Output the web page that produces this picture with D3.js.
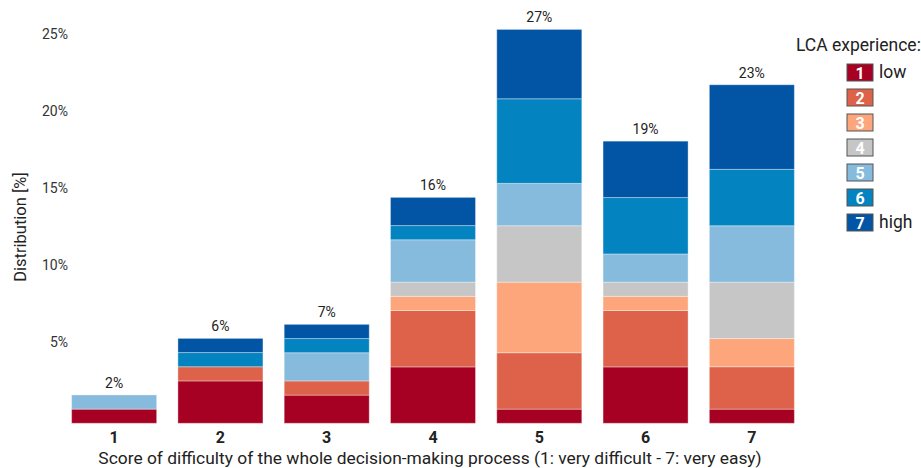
<!DOCTYPE html>
<html>
<head>
<meta charset="utf-8">
<script src="https://cdn.jsdelivr.net/npm/d3@7"></script>
<style>
  html, body { margin: 0; padding: 0; background: #fff; }
  svg { display: block; font-family: Roboto, "Noto Sans", sans-serif; }
</style>
</head>
<body>
<svg id="chart" width="921" height="468"></svg>
<script>
// ---- data ----
const categories = ["1", "2", "3", "4", "5", "6", "7"];
const levels = ["1", "2", "3", "4", "5", "6", "7"];
const levelLabels = ["low", "", "", "", "", "", "high"];
// distribution [%] per LCA experience level, for each score category
const exp1 = [0.92, 2.75, 1.83, 3.66, 0.92, 3.66, 0.92];
const exp2 = [0.00, 0.92, 0.92, 3.66, 3.66, 3.66, 2.75];
const exp3 = [0.00, 0.00, 0.00, 0.92, 4.58, 0.92, 1.83];
const exp4 = [0.00, 0.00, 0.00, 0.92, 3.66, 0.92, 3.66];
const exp5 = [0.92, 0.00, 1.83, 2.75, 2.75, 1.83, 3.66];
const exp6 = [0.00, 0.92, 0.92, 0.92, 5.49, 3.66, 3.66];
const exp7 = [0.00, 0.92, 0.92, 1.83, 4.50, 3.66, 5.49];
const totalLabels = ["2%", "6%", "7%", "16%", "27%", "19%", "23%"];
const yTicks = [5, 10, 15, 20, 25];
const colors = ["#a60023", "#dd6249", "#fda67c", "#c6c6c6", "#86bbdd", "#0384c0", "#0255a4"];

const series = [exp1, exp2, exp3, exp4, exp5, exp6, exp7];
const table = categories.map((c, i) => {
  const row = { cat: c };
  levels.forEach((l, j) => { row[l] = series[j][i]; });
  return row;
});

// ---- layout ----
const svg = d3.select("#chart");
const baseY = 423.3;
const x = d3.scaleBand().domain(categories).range([61, 805]).paddingInner(0.2).paddingOuter(0.1);
const y = d3.scaleLinear().domain([0, 27.47]).range([baseY, 0]);
const color = d3.scaleOrdinal().domain(levels).range(colors);

const stacked = d3.stack().keys(levels)(table);

const g = svg.append("g");
g.selectAll("g.layer")
  .data(stacked)
  .join("g")
  .attr("class", "layer")
  .attr("fill", d => color(d.key))
  .selectAll("rect")
  .data(d => d.filter(p => p[1] - p[0] > 0))
  .join("rect")
  .attr("x", d => x(d.data.cat))
  .attr("width", x.bandwidth())
  .attr("y", d => y(d[1]))
  .attr("height", d => y(d[0]) - y(d[1]))
  .attr("stroke", "rgba(255,255,255,0.35)")
  .attr("stroke-width", 1);

// totals labels
const totals = table.map(r => d3.sum(levels, l => r[l]));
g.selectAll("text.total")
  .data(categories)
  .join("text")
  .attr("class", "total")
  .attr("x", d => x(d) + x.bandwidth() / 2)
  .attr("y", (d, i) => y(totals[i]) - 7)
  .attr("text-anchor", "middle")
  .attr("font-size", 14)
  .attr("fill", "#222")
  .text((d, i) => totalLabels[i]);

// y axis
const yAxis = svg.append("g")
  .attr("transform", "translate(68,0)")
  .call(d3.axisLeft(y).tickValues(yTicks).tickSize(0).tickPadding(0).tickFormat(d => d + "%"));
yAxis.select(".domain").remove();
yAxis.selectAll("text")
  .attr("dy", "0")
  .attr("x", 0)
  .attr("font-size", 14)
  .attr("font-family", "Roboto, sans-serif")
  .attr("fill", "#333");

// x axis
const xAxis = svg.append("g")
  .attr("transform", `translate(0,${baseY})`)
  .call(d3.axisBottom(x).tickSize(0).tickPadding(0));
xAxis.select(".domain").remove();
xAxis.selectAll("text")
  .attr("y", 20)
  .attr("dy", "0")
  .attr("font-size", 16)
  .attr("font-weight", "bold")
  .attr("font-family", "Roboto, sans-serif")
  .attr("fill", "#222");

// axis titles
svg.append("text")
  .attr("x", 430)
  .attr("y", 464)
  .attr("text-anchor", "middle")
  .attr("font-size", 17.4)
  .attr("fill", "#222")
  .text("Score of difficulty of the whole decision-making process (1: very difficult - 7: very easy)");

svg.append("text")
  .attr("transform", "translate(26,227) rotate(-90)")
  .attr("text-anchor", "middle")
  .attr("font-size", 16.5)
  .attr("fill", "#222")
  .text("Distribution [%]");

// legend
const legend = svg.append("g").attr("transform", "translate(796,0)");
legend.append("text")
  .attr("x", 0)
  .attr("y", 51)
  .attr("font-size", 17.5)
  .attr("fill", "#222")
  .text("LCA experience:");
const items = legend.selectAll("g.item")
  .data(levels)
  .join("g")
  .attr("class", "item")
  .attr("transform", (d, i) => `translate(51,${64 + i * 25})`);
items.append("rect")
  .attr("width", 26)
  .attr("height", 17)
  .attr("fill", d => color(d))
  .attr("stroke", "#555")
  .attr("stroke-width", 1);
items.append("text")
  .attr("x", 13)
  .attr("y", 14.5)
  .attr("text-anchor", "middle")
  .attr("font-size", 16)
  .attr("font-weight", "bold")
  .attr("fill", "#fff")
  .text(d => d);
items.append("text")
  .attr("x", 32)
  .attr("y", 14)
  .attr("font-size", 17.5)
  .attr("fill", "#222")
  .text((d, i) => levelLabels[i]);
</script>
</body>
</html>
